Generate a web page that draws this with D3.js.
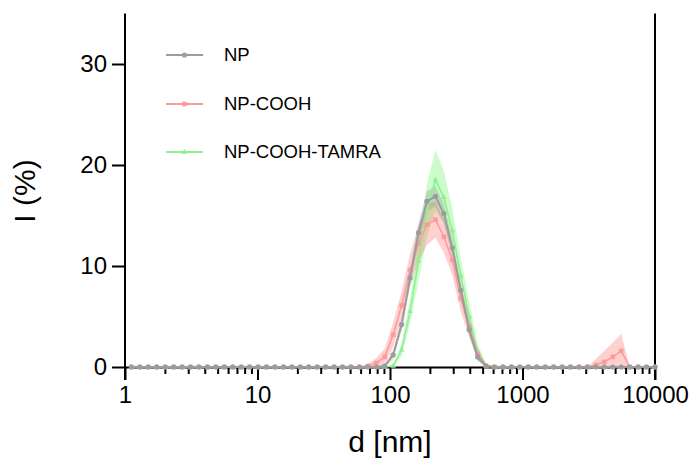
<!DOCTYPE html>
<html>
<head>
<meta charset="utf-8">
<script src="https://cdn.jsdelivr.net/npm/d3@7"></script>
<style>
  html, body { margin: 0; padding: 0; background: #fff; }
  svg { display: block; font-family: "Liberation Sans", Arial, sans-serif; }
</style>
</head>
<body>
<svg id="chart" width="694" height="458"></svg>
<script>
// Hydrodynamic diameter bins (nm)
const sizes = [
  1.117,1.294,1.499,1.736,2.01,2.328,2.696,3.122,3.615,4.187,
  4.849,5.615,6.503,7.531,8.721,10.1,11.7,13.54,15.69,18.17,
  21.04,24.36,28.21,32.67,37.84,43.82,50.75,58.77,68.06,78.82,
  91.28,105.7,122.4,141.8,164.2,190.1,220.2,255,295.3,342,
  396.1,458.7,531.2,615.1,712.4,825,955.4,1106,1281,1484,
  1718,1990,2305,2669,3091,3580,4145,4801,5560,6439,
  7456,8635,10000
];
// NP intensity (%)
const npMean = [
  0,0,0,0,0,0,0,0,0,0,
  0,0,0,0,0,0,0,0,0,0,
  0,0,0,0,0,0,0,0,0,0,
  0.1,1.2,4.2,8.8,13.3,16.4,16.9,15.2,11.8,7.6,
  3.7,1.0,0.1,0,0,0,0,0,0,0,
  0,0,0,0,0,0,0,0,0,0,
  0,0,0
];
const npSd = [
  0,0,0,0,0,0,0,0,0,0,
  0,0,0,0,0,0,0,0,0,0,
  0,0,0,0,0,0,0,0,0,0,
  0.1,0.4,0.6,0.8,1.0,1.0,1.0,1.0,0.9,0.7,
  0.6,0.4,0.1,0,0,0,0,0,0,0,
  0,0,0,0,0,0,0,0,0,0,
  0,0,0
];
// NP-COOH intensity (%)
const coohMean = [
  0,0,0,0,0,0,0,0,0,0,
  0,0,0,0,0,0,0,0,0,0,
  0,0,0,0,0,0,0,0,0.1,0.4,
  1.0,3.2,6.1,9.6,12.2,14.1,14.6,12.9,10.6,6.8,
  4.0,1.3,0.1,0,0,0,0,0,0,0,
  0,0,0,0,0,0.2,0.5,1.0,1.6,0,
  0,0,0
];
const coohSd = [
  0,0,0,0,0,0,0,0,0,0,
  0,0,0,0,0,0,0,0,0,0,
  0,0,0,0,0,0,0,0,0.2,0.5,
  0.8,1.2,1.4,1.6,1.8,2.0,1.8,1.6,1.5,1.3,
  1.0,0.6,0.2,0,0,0,0,0,0,0,
  0,0,0,0,0,0.6,1.1,1.4,1.7,0,
  0,0,0
];
// NP-COOH-TAMRA intensity (%)
const tamraMean = [
  0,0,0,0,0,0,0,0,0,0,
  0,0,0,0,0,0,0,0,0,0,
  0,0,0,0,0,0,0,0,0,0,
  0,0.1,1.7,5.5,10.5,15.5,18.5,16.8,13.5,9.0,
  5.0,1.5,0.1,0,0,0,0,0,0,0,
  0,0,0,0,0,0,0,0,0,0,
  0,0,0
];
const tamraSd = [
  0,0,0,0,0,0,0,0,0,0,
  0,0,0,0,0,0,0,0,0,0,
  0,0,0,0,0,0,0,0,0,0,
  0,0.2,0.6,1.2,2.0,2.6,3.0,2.6,2.2,1.8,
  1.4,0.8,0.2,0,0,0,0,0,0,0,
  0,0,0,0,0,0,0,0,0,0,
  0,0,0
];
const xTicks = [1, 10, 100, 1000, 10000];
const yTicks = [0, 10, 20, 30];
const seriesNames = ["NP", "NP-COOH", "NP-COOH-TAMRA"];

const svg = d3.select("#chart");
const margin = {left: 125, right: 39, top: 13.5, bottom: 91};
const W = 694, H = 458;
const x = d3.scaleLog().domain([1, 10000]).range([margin.left, W - margin.right]);
const y = d3.scaleLinear().domain([0, 35]).range([H - margin.bottom, margin.top]);

const series = [
  {name: seriesNames[2], mean: tamraMean, sd: tamraSd, line: "#8ef08e", band: "rgba(110,245,110,0.35)", marker: "tri"},
  {name: seriesNames[1], mean: coohMean, sd: coohSd, line: "#ff9a9a", band: "rgba(255,110,110,0.32)", marker: "sq"},
  {name: seriesNames[0], mean: npMean, sd: npSd, line: "#9c9c9c", band: "rgba(150,150,150,0.35)", marker: "circ"}
];

// axes (drawn first, data sits on top)
const fontTick = "24px";
const xAxis = svg.append("g").attr("transform", `translate(0,${y(0)})`)
  .call(d3.axisBottom(x).tickValues(xTicks).tickFormat(d3.format("d")).tickSize(13).tickSizeOuter(0).tickPadding(6));
xAxis.selectAll("path").attr("stroke", "#000").attr("stroke-width", 2);
xAxis.selectAll("line").attr("stroke", "#000").attr("stroke-width", 2);
xAxis.selectAll("text").attr("font-size", fontTick).attr("fill", "#000").attr("font-family", "Liberation Sans, Arial, sans-serif");

const minor = [];
for (let e = 0; e < 4; e++) for (let m = 2; m <= 9; m++) minor.push(m * Math.pow(10, e));
const xMinor = svg.append("g").attr("transform", `translate(0,${y(0)})`)
  .call(d3.axisBottom(x).tickValues(minor).tickFormat("").tickSize(7).tickSizeOuter(0));
xMinor.select("path").remove();
xMinor.selectAll("line").attr("stroke", "#000").attr("stroke-width", 2);

const yAxis = svg.append("g").attr("transform", `translate(${x(1)},0)`)
  .call(d3.axisLeft(y).tickValues(yTicks).tickSize(13).tickSizeOuter(0).tickPadding(5));
yAxis.select("path").remove();
yAxis.selectAll("line").attr("stroke", "#000").attr("stroke-width", 2);
yAxis.selectAll("text").attr("font-size", fontTick).attr("fill", "#000").attr("font-family", "Liberation Sans, Arial, sans-serif");
// y axis line extending below zero, and right frame line
svg.append("line").attr("x1", x(1)).attr("x2", x(1)).attr("y1", y(35)).attr("y2", y(0) + 13)
  .attr("stroke", "#000").attr("stroke-width", 2);
svg.append("line").attr("x1", x(10000)).attr("x2", x(10000)).attr("y1", y(35)).attr("y2", y(0) + 13)
  .attr("stroke", "#000").attr("stroke-width", 2);

// axis titles
svg.append("text").attr("x", (x(1) + x(10000)) / 2).attr("y", 452)
  .attr("text-anchor", "middle").attr("font-size", "30px").text("d [nm]");
svg.append("text").attr("transform", `translate(35,191) rotate(-90)`)
  .attr("text-anchor", "middle").attr("font-size", "30px").text("I (%)");

// bands
const area = d3.area()
  .x((d, i) => x(sizes[i]))
  .y0(d => y(Math.max(0, d[0] - d[1])))
  .y1(d => y(d[0] + d[1]));
const line = d3.line().x((d, i) => x(sizes[i])).y(d => y(d));

series.forEach(s => {
  svg.append("path").datum(s.mean.map((m, i) => [m, s.sd[i]]))
    .attr("d", area).attr("fill", s.band).attr("stroke", "none");
});

function drawMarker(g, type, cx, cy, color) {
  if (type === "circ") {
    g.append("circle").attr("cx", cx).attr("cy", cy).attr("r", 2.6).attr("fill", color);
  } else if (type === "sq") {
    g.append("rect").attr("x", cx - 2.3).attr("y", cy - 2.3).attr("width", 4.6).attr("height", 4.6).attr("fill", color);
  } else {
    g.append("path").attr("d", d3.symbol(d3.symbolTriangle, 14)()).attr("transform", `translate(${cx},${cy})`).attr("fill", color);
  }
}

series.forEach(s => {
  svg.append("path").datum(s.mean).attr("d", line).attr("fill", "none")
    .attr("stroke", s.line).attr("stroke-width", s.marker === "circ" ? 2 : 1.6);
  const g = svg.append("g");
  s.mean.forEach((m, i) => drawMarker(g, s.marker, x(sizes[i]), y(m), s.line));
});

// legend
const legendRows = [series[2], series[1], series[0]];
const legendY = [55, 104, 152];
legendRows.forEach((s, k) => {
  const ly = legendY[k];
  svg.append("line").attr("x1", 166).attr("x2", 203).attr("y1", ly).attr("y2", ly)
    .attr("stroke", s.line).attr("stroke-width", 2);
  drawMarker(svg, s.marker, 184.5, ly, s.line);
  svg.append("text").attr("x", 224).attr("y", ly).attr("dy", "0.35em")
    .attr("font-size", "18.5px").attr("fill", "#000").text(s.name);
});
</script>
</body>
</html>
